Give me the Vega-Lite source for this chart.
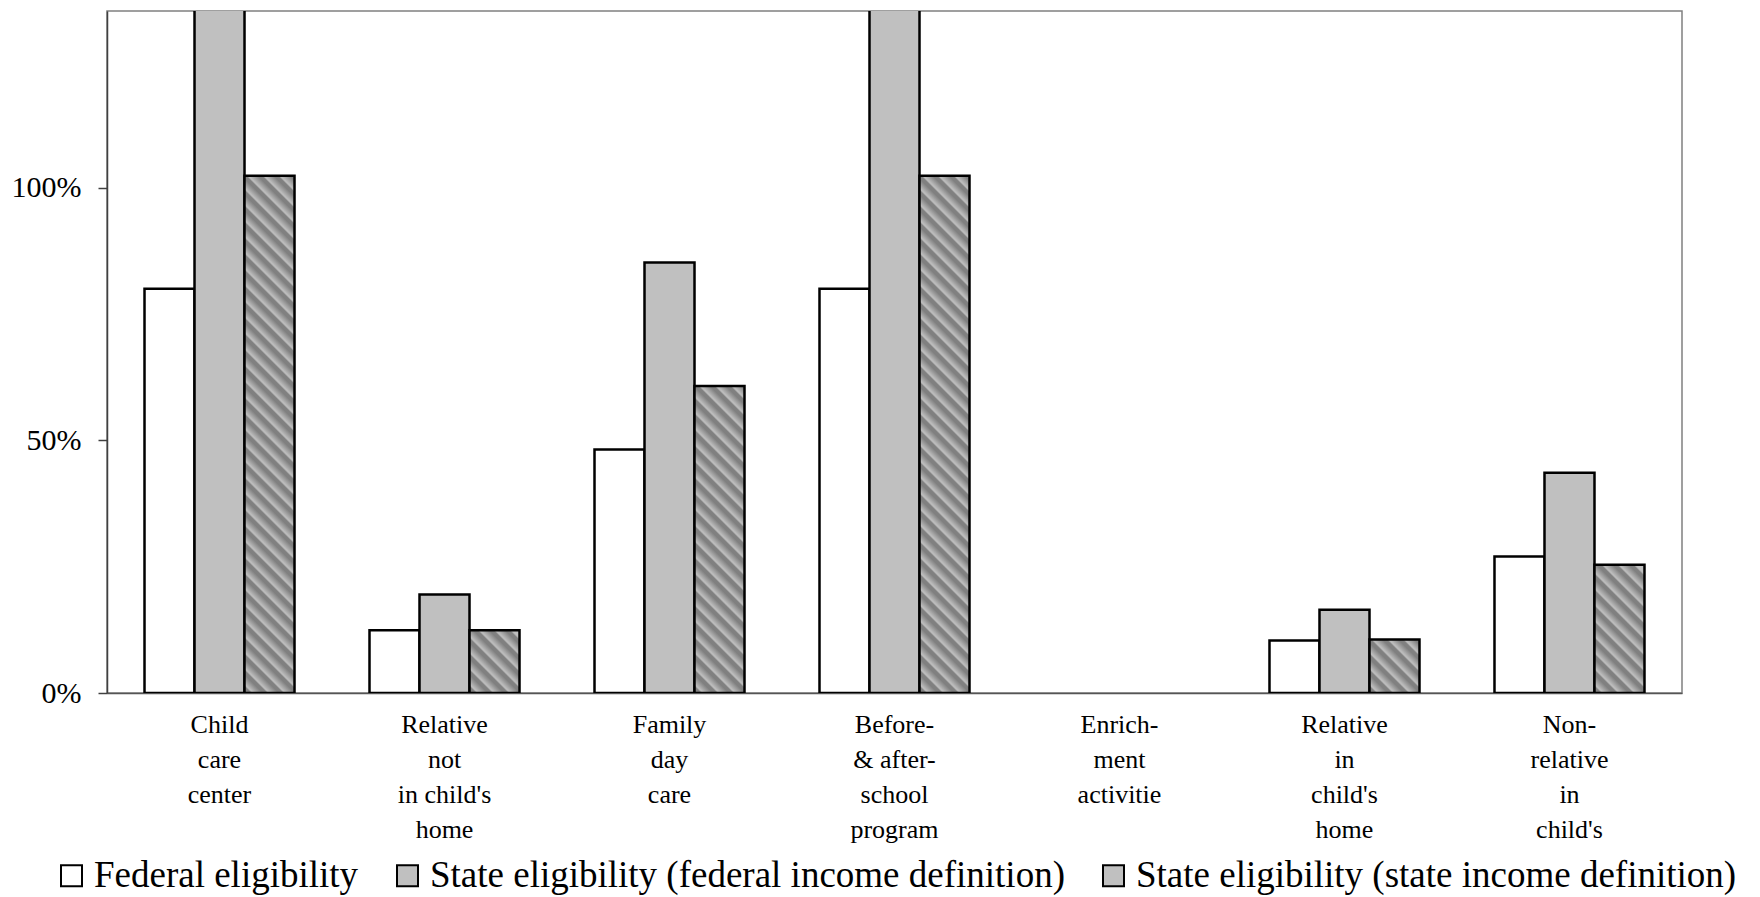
{
  "$schema": "https://vega.github.io/schema/vega-lite/v6.json",
  "autosize": {"type": "none"},
  "padding": {"left": 107, "top": 11, "right": 78, "bottom": 204},
  "width": 1575,
  "height": 682,
  "background": "white",
  "data": {
    "values": [
      {"category": "Child|care|center", "series": "Federal eligibility", "value": 80.0},
      {"category": "Child|care|center", "series": "State eligibility (federal income definition)", "value": 150},
      {"category": "Child|care|center", "series": "State eligibility (state income definition)", "value": 102.4},
      {"category": "Relative|not|in child's|home", "series": "Federal eligibility", "value": 12.4},
      {"category": "Relative|not|in child's|home", "series": "State eligibility (federal income definition)", "value": 19.5},
      {"category": "Relative|not|in child's|home", "series": "State eligibility (state income definition)", "value": 12.4},
      {"category": "Family|day|care", "series": "Federal eligibility", "value": 48.2},
      {"category": "Family|day|care", "series": "State eligibility (federal income definition)", "value": 85.2},
      {"category": "Family|day|care", "series": "State eligibility (state income definition)", "value": 60.75},
      {"category": "Before-|& after-|school|program", "series": "Federal eligibility", "value": 80.0},
      {"category": "Before-|& after-|school|program", "series": "State eligibility (federal income definition)", "value": 150},
      {"category": "Before-|& after-|school|program", "series": "State eligibility (state income definition)", "value": 102.4},
      {"category": "Enrich-|ment|activitie", "series": "Federal eligibility", "value": null},
      {"category": "Enrich-|ment|activitie", "series": "State eligibility (federal income definition)", "value": null},
      {"category": "Enrich-|ment|activitie", "series": "State eligibility (state income definition)", "value": null},
      {"category": "Relative|in|child's|home", "series": "Federal eligibility", "value": 10.4},
      {"category": "Relative|in|child's|home", "series": "State eligibility (federal income definition)", "value": 16.5},
      {"category": "Relative|in|child's|home", "series": "State eligibility (state income definition)", "value": 10.6},
      {"category": "Non-|relative|in|child's", "series": "Federal eligibility", "value": 27.0},
      {"category": "Non-|relative|in|child's", "series": "State eligibility (federal income definition)", "value": 43.6},
      {"category": "Non-|relative|in|child's", "series": "State eligibility (state income definition)", "value": 25.4}
    ]
  },
  "mark": {"type": "bar", "stroke": "black", "strokeWidth": 2.5, "clip": true},
  "encoding": {
    "x": {
      "field": "category", "type": "nominal",
      "scale": {
        "domain": ["Child|care|center", "Relative|not|in child's|home", "Family|day|care", "Before-|& after-|school|program", "Enrich-|ment|activitie", "Relative|in|child's|home", "Non-|relative|in|child's"],
        "paddingInner": 0.3333, "paddingOuter": 0.1667
      },
      "axis": {
        "title": null, "labelAngle": 0, "ticks": false, "domain": true, "domainColor": "#555555", "domainWidth": 1.5,
        "labelExpr": "split(datum.label, '|')", "labelFont": "Liberation Serif", "labelFontSize": 26, "labelColor": "black",
        "labelLineHeight": 35, "labelPadding": 18, "labelLimit": 400, "labelBaseline": "top"
      }
    },
    "xOffset": {
      "field": "series", "type": "nominal",
      "scale": {"domain": ["Federal eligibility", "State eligibility (federal income definition)", "State eligibility (state income definition)"], "paddingInner": 0, "paddingOuter": 0}
    },
    "y": {
      "field": "value", "type": "quantitative",
      "scale": {"domain": [0, 135], "nice": false},
      "axis": {
        "title": null, "values": [0, 50, 100], "labelExpr": "datum.value + '%'", "grid": false,
        "tickSize": 9, "tickColor": "#404040", "tickWidth": 1.5, "domainColor": "#404040", "domainWidth": 1.5,
        "labelFont": "Liberation Serif", "labelFontSize": 30, "labelColor": "black", "labelPadding": 17
      }
    },
    "fill": {
      "field": "series", "type": "nominal",
      "scale": {"domain": ["Federal eligibility", "State eligibility (federal income definition)", "State eligibility (state income definition)"], "range": ["#ffffff", "#c0c0c0", "#c0c0c0"]},
      "legend": {
        "title": null, "orient": "bottom", "direction": "horizontal", "offset": 15,
        "symbolType": "square", "symbolSize": 441, "symbolStrokeColor": "black", "symbolStrokeWidth": 2,
        "labelFont": "Liberation Serif", "labelFontSize": 37, "labelColor": "black", "labelLimit": 1000,
        "labelOffset": 4, "columnPadding": 30,
        "encode": {
          "symbols": {
            "update": {
              "fill": [
                {"test": "datum.value === 'State eligibility (state income definition)'", "value": {"gradient": "linear", "x1": 0, "y1": 1, "x2": 1, "y2": 0, "stops": [
                  {"offset": 0, "color": "#c0c0c0"},
                  {"offset": 0.0571, "color": "#808080"}, {"offset": 0.1524, "color": "#808080"}, {"offset": 0.2095, "color": "#c0c0c0"},
                  {"offset": 0.4381, "color": "#808080"}, {"offset": 0.5333, "color": "#808080"}, {"offset": 0.5905, "color": "#c0c0c0"},
                  {"offset": 0.8190, "color": "#808080"}, {"offset": 0.9143, "color": "#808080"}, {"offset": 0.9714, "color": "#c0c0c0"}
                ]}},
                {"scale": "fill", "field": "value"}
              ],
              "stroke": {"value": "black"},
              "strokeWidth": {"value": 2}
            }
          }
        }
      },
      "condition": [
        {"test": "datum.series === 'State eligibility (state income definition)' && (datum.category === 'Child|care|center' || datum.category === 'Before-|& after-|school|program')",
         "value": {"gradient": "linear", "x1": 0, "y1": 1, "x2": 0.10502, "y2": -0.0865, "stops": [
          {"offset": 0, "color": "#c0c0c0"},
          {"offset": 0.0042, "color": "#808080"}, {"offset": 0.0113, "color": "#808080"}, {"offset": 0.0155, "color": "#c0c0c0"},
          {"offset": 0.0324, "color": "#808080"}, {"offset": 0.0395, "color": "#808080"}, {"offset": 0.0437, "color": "#c0c0c0"},
          {"offset": 0.0606, "color": "#808080"}, {"offset": 0.0677, "color": "#808080"}, {"offset": 0.0719, "color": "#c0c0c0"},
          {"offset": 0.0888, "color": "#808080"}, {"offset": 0.0959, "color": "#808080"}, {"offset": 0.1001, "color": "#c0c0c0"},
          {"offset": 0.1170, "color": "#808080"}, {"offset": 0.1241, "color": "#808080"}, {"offset": 0.1283, "color": "#c0c0c0"},
          {"offset": 0.1453, "color": "#808080"}, {"offset": 0.1523, "color": "#808080"}, {"offset": 0.1565, "color": "#c0c0c0"},
          {"offset": 0.1735, "color": "#808080"}, {"offset": 0.1805, "color": "#808080"}, {"offset": 0.1847, "color": "#c0c0c0"},
          {"offset": 0.2017, "color": "#808080"}, {"offset": 0.2087, "color": "#808080"}, {"offset": 0.2129, "color": "#c0c0c0"},
          {"offset": 0.2299, "color": "#808080"}, {"offset": 0.2369, "color": "#808080"}, {"offset": 0.2411, "color": "#c0c0c0"},
          {"offset": 0.2581, "color": "#808080"}, {"offset": 0.2651, "color": "#808080"}, {"offset": 0.2693, "color": "#c0c0c0"},
          {"offset": 0.2863, "color": "#808080"}, {"offset": 0.2933, "color": "#808080"}, {"offset": 0.2976, "color": "#c0c0c0"},
          {"offset": 0.3145, "color": "#808080"}, {"offset": 0.3215, "color": "#808080"}, {"offset": 0.3258, "color": "#c0c0c0"},
          {"offset": 0.3427, "color": "#808080"}, {"offset": 0.3497, "color": "#808080"}, {"offset": 0.3540, "color": "#c0c0c0"},
          {"offset": 0.3709, "color": "#808080"}, {"offset": 0.3779, "color": "#808080"}, {"offset": 0.3822, "color": "#c0c0c0"},
          {"offset": 0.3991, "color": "#808080"}, {"offset": 0.4061, "color": "#808080"}, {"offset": 0.4104, "color": "#c0c0c0"},
          {"offset": 0.4273, "color": "#808080"}, {"offset": 0.4343, "color": "#808080"}, {"offset": 0.4386, "color": "#c0c0c0"},
          {"offset": 0.4555, "color": "#808080"}, {"offset": 0.4625, "color": "#808080"}, {"offset": 0.4668, "color": "#c0c0c0"},
          {"offset": 0.4837, "color": "#808080"}, {"offset": 0.4907, "color": "#808080"}, {"offset": 0.4950, "color": "#c0c0c0"},
          {"offset": 0.5119, "color": "#808080"}, {"offset": 0.5190, "color": "#808080"}, {"offset": 0.5232, "color": "#c0c0c0"},
          {"offset": 0.5401, "color": "#808080"}, {"offset": 0.5472, "color": "#808080"}, {"offset": 0.5514, "color": "#c0c0c0"},
          {"offset": 0.5683, "color": "#808080"}, {"offset": 0.5754, "color": "#808080"}, {"offset": 0.5796, "color": "#c0c0c0"},
          {"offset": 0.5965, "color": "#808080"}, {"offset": 0.6036, "color": "#808080"}, {"offset": 0.6078, "color": "#c0c0c0"},
          {"offset": 0.6247, "color": "#808080"}, {"offset": 0.6318, "color": "#808080"}, {"offset": 0.6360, "color": "#c0c0c0"},
          {"offset": 0.6529, "color": "#808080"}, {"offset": 0.6600, "color": "#808080"}, {"offset": 0.6642, "color": "#c0c0c0"},
          {"offset": 0.6811, "color": "#808080"}, {"offset": 0.6882, "color": "#808080"}, {"offset": 0.6924, "color": "#c0c0c0"},
          {"offset": 0.7093, "color": "#808080"}, {"offset": 0.7164, "color": "#808080"}, {"offset": 0.7206, "color": "#c0c0c0"},
          {"offset": 0.7375, "color": "#808080"}, {"offset": 0.7446, "color": "#808080"}, {"offset": 0.7488, "color": "#c0c0c0"},
          {"offset": 0.7657, "color": "#808080"}, {"offset": 0.7728, "color": "#808080"}, {"offset": 0.7770, "color": "#c0c0c0"},
          {"offset": 0.7939, "color": "#808080"}, {"offset": 0.8010, "color": "#808080"}, {"offset": 0.8052, "color": "#c0c0c0"},
          {"offset": 0.8221, "color": "#808080"}, {"offset": 0.8292, "color": "#808080"}, {"offset": 0.8334, "color": "#c0c0c0"},
          {"offset": 0.8504, "color": "#808080"}, {"offset": 0.8574, "color": "#808080"}, {"offset": 0.8616, "color": "#c0c0c0"},
          {"offset": 0.8786, "color": "#808080"}, {"offset": 0.8856, "color": "#808080"}, {"offset": 0.8898, "color": "#c0c0c0"},
          {"offset": 0.9068, "color": "#808080"}, {"offset": 0.9138, "color": "#808080"}, {"offset": 0.9180, "color": "#c0c0c0"},
          {"offset": 0.9350, "color": "#808080"}, {"offset": 0.9420, "color": "#808080"}, {"offset": 0.9462, "color": "#c0c0c0"},
          {"offset": 0.9632, "color": "#808080"}, {"offset": 0.9702, "color": "#808080"}, {"offset": 0.9744, "color": "#c0c0c0"},
          {"offset": 0.9914, "color": "#808080"}, {"offset": 0.9984, "color": "#808080"}, {"offset": 1, "color": "#c0c0c0"}
        ]}},
        {"test": "datum.series === 'State eligibility (state income definition)' && datum.category === 'Family|day|care'",
         "value": {"gradient": "linear", "x1": 0, "y1": 1, "x2": 0.18456, "y2": -0.13285, "stops": [
          {"offset": 0, "color": "#c0c0c0"},
          {"offset": 0.0067, "color": "#808080"}, {"offset": 0.0179, "color": "#808080"}, {"offset": 0.0247, "color": "#c0c0c0"},
          {"offset": 0.0516, "color": "#808080"}, {"offset": 0.0628, "color": "#808080"}, {"offset": 0.0695, "color": "#c0c0c0"},
          {"offset": 0.0964, "color": "#808080"}, {"offset": 0.1076, "color": "#808080"}, {"offset": 0.1143, "color": "#c0c0c0"},
          {"offset": 0.1412, "color": "#808080"}, {"offset": 0.1524, "color": "#808080"}, {"offset": 0.1592, "color": "#c0c0c0"},
          {"offset": 0.1860, "color": "#808080"}, {"offset": 0.1973, "color": "#808080"}, {"offset": 0.2040, "color": "#c0c0c0"},
          {"offset": 0.2309, "color": "#808080"}, {"offset": 0.2421, "color": "#808080"}, {"offset": 0.2488, "color": "#c0c0c0"},
          {"offset": 0.2757, "color": "#808080"}, {"offset": 0.2869, "color": "#808080"}, {"offset": 0.2936, "color": "#c0c0c0"},
          {"offset": 0.3205, "color": "#808080"}, {"offset": 0.3317, "color": "#808080"}, {"offset": 0.3385, "color": "#c0c0c0"},
          {"offset": 0.3654, "color": "#808080"}, {"offset": 0.3766, "color": "#808080"}, {"offset": 0.3833, "color": "#c0c0c0"},
          {"offset": 0.4102, "color": "#808080"}, {"offset": 0.4214, "color": "#808080"}, {"offset": 0.4281, "color": "#c0c0c0"},
          {"offset": 0.4550, "color": "#808080"}, {"offset": 0.4662, "color": "#808080"}, {"offset": 0.4730, "color": "#c0c0c0"},
          {"offset": 0.4999, "color": "#808080"}, {"offset": 0.5111, "color": "#808080"}, {"offset": 0.5178, "color": "#c0c0c0"},
          {"offset": 0.5447, "color": "#808080"}, {"offset": 0.5559, "color": "#808080"}, {"offset": 0.5626, "color": "#c0c0c0"},
          {"offset": 0.5895, "color": "#808080"}, {"offset": 0.6007, "color": "#808080"}, {"offset": 0.6075, "color": "#c0c0c0"},
          {"offset": 0.6344, "color": "#808080"}, {"offset": 0.6456, "color": "#808080"}, {"offset": 0.6523, "color": "#c0c0c0"},
          {"offset": 0.6792, "color": "#808080"}, {"offset": 0.6904, "color": "#808080"}, {"offset": 0.6971, "color": "#c0c0c0"},
          {"offset": 0.7240, "color": "#808080"}, {"offset": 0.7352, "color": "#808080"}, {"offset": 0.7420, "color": "#c0c0c0"},
          {"offset": 0.7689, "color": "#808080"}, {"offset": 0.7801, "color": "#808080"}, {"offset": 0.7868, "color": "#c0c0c0"},
          {"offset": 0.8137, "color": "#808080"}, {"offset": 0.8249, "color": "#808080"}, {"offset": 0.8316, "color": "#c0c0c0"},
          {"offset": 0.8585, "color": "#808080"}, {"offset": 0.8697, "color": "#808080"}, {"offset": 0.8764, "color": "#c0c0c0"},
          {"offset": 0.9033, "color": "#808080"}, {"offset": 0.9146, "color": "#808080"}, {"offset": 0.9213, "color": "#c0c0c0"},
          {"offset": 0.9482, "color": "#808080"}, {"offset": 0.9594, "color": "#808080"}, {"offset": 0.9661, "color": "#c0c0c0"},
          {"offset": 0.9930, "color": "#808080"}, {"offset": 1, "color": "#808080"}
        ]}},
        {"test": "datum.series === 'State eligibility (state income definition)' && datum.category === \"Relative|not|in child's|home\"",
         "value": {"gradient": "linear", "x1": 0, "y1": 1, "x2": 0.87712, "y2": -0.09815, "stops": [
          {"offset": 0, "color": "#c0c0c0"},
          {"offset": 0.0213, "color": "#808080"}, {"offset": 0.0568, "color": "#808080"}, {"offset": 0.0782, "color": "#c0c0c0"},
          {"offset": 0.1634, "color": "#808080"}, {"offset": 0.1989, "color": "#808080"}, {"offset": 0.2203, "color": "#c0c0c0"},
          {"offset": 0.3055, "color": "#808080"}, {"offset": 0.3410, "color": "#808080"}, {"offset": 0.3624, "color": "#c0c0c0"},
          {"offset": 0.4476, "color": "#808080"}, {"offset": 0.4831, "color": "#808080"}, {"offset": 0.5045, "color": "#c0c0c0"},
          {"offset": 0.5897, "color": "#808080"}, {"offset": 0.6252, "color": "#808080"}, {"offset": 0.6466, "color": "#c0c0c0"},
          {"offset": 0.7318, "color": "#808080"}, {"offset": 0.7673, "color": "#808080"}, {"offset": 0.7887, "color": "#c0c0c0"},
          {"offset": 0.8739, "color": "#808080"}, {"offset": 0.9094, "color": "#808080"}, {"offset": 0.9308, "color": "#c0c0c0"}
        ]}},
        {"test": "datum.series === 'State eligibility (state income definition)' && datum.category === \"Relative|in|child's|home\"",
         "value": {"gradient": "linear", "x1": 0, "y1": 1, "x2": 0.9641, "y2": -0.0335, "stops": [
          {"offset": 0, "color": "#c0c0c0"},
          {"offset": 0.0232, "color": "#808080"}, {"offset": 0.0618, "color": "#808080"}, {"offset": 0.0849, "color": "#c0c0c0"},
          {"offset": 0.1776, "color": "#808080"}, {"offset": 0.2162, "color": "#808080"}, {"offset": 0.2394, "color": "#c0c0c0"},
          {"offset": 0.3320, "color": "#808080"}, {"offset": 0.3707, "color": "#808080"}, {"offset": 0.3938, "color": "#c0c0c0"},
          {"offset": 0.4865, "color": "#808080"}, {"offset": 0.5251, "color": "#808080"}, {"offset": 0.5483, "color": "#c0c0c0"},
          {"offset": 0.6409, "color": "#808080"}, {"offset": 0.6795, "color": "#808080"}, {"offset": 0.7027, "color": "#c0c0c0"},
          {"offset": 0.7954, "color": "#808080"}, {"offset": 0.8340, "color": "#808080"}, {"offset": 0.8571, "color": "#c0c0c0"},
          {"offset": 0.9498, "color": "#808080"}, {"offset": 0.9884, "color": "#808080"}, {"offset": 1, "color": "#a0a0a0"}
        ]}},
        {"test": "datum.series === 'State eligibility (state income definition)' && datum.category === \"Non-|relative|in|child's\"",
         "value": {"gradient": "linear", "x1": 0, "y1": 1, "x2": 0.47018, "y2": -0.20648, "stops": [
          {"offset": 0, "color": "#c0c0c0"},
          {"offset": 0.0135, "color": "#808080"}, {"offset": 0.0359, "color": "#808080"}, {"offset": 0.0494, "color": "#c0c0c0"},
          {"offset": 0.1032, "color": "#808080"}, {"offset": 0.1256, "color": "#808080"}, {"offset": 0.1391, "color": "#c0c0c0"},
          {"offset": 0.1929, "color": "#808080"}, {"offset": 0.2154, "color": "#808080"}, {"offset": 0.2288, "color": "#c0c0c0"},
          {"offset": 0.2827, "color": "#808080"}, {"offset": 0.3051, "color": "#808080"}, {"offset": 0.3186, "color": "#c0c0c0"},
          {"offset": 0.3724, "color": "#808080"}, {"offset": 0.3948, "color": "#808080"}, {"offset": 0.4083, "color": "#c0c0c0"},
          {"offset": 0.4621, "color": "#808080"}, {"offset": 0.4846, "color": "#808080"}, {"offset": 0.4980, "color": "#c0c0c0"},
          {"offset": 0.5519, "color": "#808080"}, {"offset": 0.5743, "color": "#808080"}, {"offset": 0.5878, "color": "#c0c0c0"},
          {"offset": 0.6416, "color": "#808080"}, {"offset": 0.6640, "color": "#808080"}, {"offset": 0.6775, "color": "#c0c0c0"},
          {"offset": 0.7313, "color": "#808080"}, {"offset": 0.7538, "color": "#808080"}, {"offset": 0.7672, "color": "#c0c0c0"},
          {"offset": 0.8211, "color": "#808080"}, {"offset": 0.8435, "color": "#808080"}, {"offset": 0.8570, "color": "#c0c0c0"},
          {"offset": 0.9108, "color": "#808080"}, {"offset": 0.9333, "color": "#808080"}, {"offset": 0.9467, "color": "#c0c0c0"}
        ]}}
      ]
    }
  },
  "config": {
    "font": "Liberation Serif",
    "view": {"stroke": "#808080", "strokeWidth": 1.5},
    "legend": {"layout": {"bottom": {"anchor": "middle"}}}
  }
}
